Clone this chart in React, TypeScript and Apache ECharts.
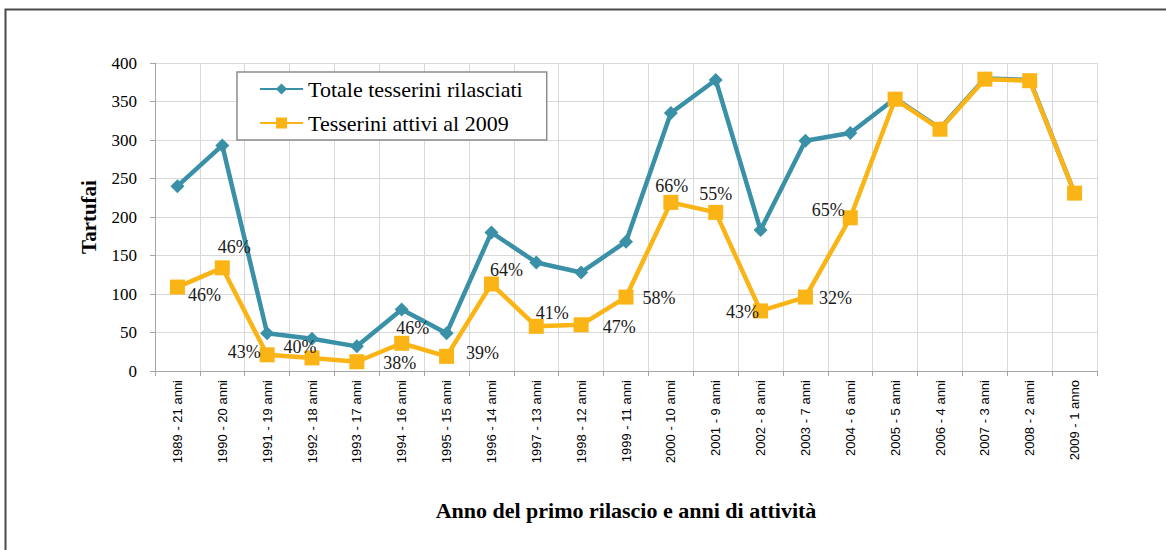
import React, { useEffect, useRef } from "react";
import * as echarts from "echarts";

const categories = [
  "1989 - 21 anni", "1990 - 20 anni", "1991 - 19 anni", "1992 - 18 anni", "1993 - 17 anni",
  "1994 - 16 anni", "1995 - 15 anni", "1996 - 14 anni", "1997 - 13 anni", "1998 - 12 anni",
  "1999 - 11 anni", "2000 - 10 anni", "2001 - 9 anni", "2002 - 8 anni", "2003 - 7 anni",
  "2004 - 6 anni", "2005 - 5 anni", "2006 - 4 anni", "2007 - 3 anni", "2008 - 2 anni", "2009 - 1 anno",
];

const totaleTesserini = [240, 293, 49, 42, 32, 80, 49, 180, 141, 128, 168, 335, 378, 183, 299, 309, 354, 315, 380, 378, 231];
const tesseriniAttivi = [109, 134, 21, 17, 12, 36, 19, 113, 58, 60, 96, 219, 206, 78, 96, 199, 353, 314, 379, 377, 231];
const percentLabels = ["46%", "46%", "43%", "40%", "38%", "46%", "39%", "64%", "41%", "47%", "58%", "66%", "55%", "43%", "32%", "65%", "", "", "", "", ""];
const labelOffsets = [
  [27, 8], [12, -21], [-23, -3], [-12, -11], [43, 1], [11, -15], [36, -3], [15, -14],
  [16, -13], [38, 2], [33, 1], [1, -16], [0, -18], [-18, 1], [30, 1], [-22, -8],
  [0, 0], [0, 0], [0, 0], [0, 0], [0, 0],
];
const yTicks = { min: 0, max: 400, interval: 50 };

const TEAL = "#3A91A7";
const YELLOW = "#FBB416";
const SERIF = "'Liberation Serif', 'Times New Roman', serif";
const SANS = "'Liberation Sans', Arial, sans-serif";

export default function App() {
  const ref = useRef<HTMLDivElement>(null);
  useEffect(() => {
    if (!ref.current) return;
    const chart = echarts.init(ref.current, null, { renderer: "svg" });
    const option = {
      animation: false,
      backgroundColor: "#ffffff",
      graphic: [
        {
          type: "rect",
          shape: { x: 5.5, y: 9.5, width: 1300, height: 700 },
          style: { fill: "none", stroke: "#4a4a4a", lineWidth: 2 },
          silent: true,
        },
      ],
      legend: {
        orient: "vertical",
        left: 237,
        top: 72,
        padding: [6, 24, 6, 22],
        itemGap: 12,
        itemWidth: 43,
        itemHeight: 14,
        borderColor: "#8c8c8c",
        borderWidth: 1.5,
        backgroundColor: "#ffffff",
        textStyle: { fontFamily: SERIF, fontSize: 22, color: "#000" },
        data: ["Totale tesserini rilasciati", "Tesserini attivi al 2009"],
      },
      grid: { left: 155, right: 69, top: 63, bottom: 179, containLabel: false },
      xAxis: {
        type: "category",
        data: categories,
        boundaryGap: true,
        name: "Anno del primo rilascio e anni di attività",
        nameLocation: "middle",
        nameGap: 128,
        nameTextStyle: { fontFamily: SERIF, fontWeight: "bold", fontSize: 22, color: "#000" },
        axisLine: { lineStyle: { color: "#a6a6a6", width: 1 } },
        axisTick: { show: true, alignWithLabel: false, length: 5, lineStyle: { color: "#a6a6a6" } },
        axisLabel: { rotate: 90, interval: 0, fontFamily: SANS, fontSize: 13, color: "#000", margin: 9 },
        splitLine: { show: true, lineStyle: { color: "#d9d9d9", width: 1 } },
      },
      yAxis: {
        type: "value",
        min: yTicks.min,
        max: yTicks.max,
        interval: yTicks.interval,
        name: "Tartufai",
        nameLocation: "middle",
        nameRotate: 90,
        nameGap: 56,
        nameTextStyle: { fontFamily: SERIF, fontWeight: "bold", fontSize: 21, color: "#000" },
        axisLine: { show: true, lineStyle: { color: "#a6a6a6", width: 1 } },
        axisTick: { show: true, length: 5, lineStyle: { color: "#a6a6a6" } },
        axisLabel: { fontFamily: SERIF, fontSize: 17, color: "#000", margin: 18 },
        splitLine: { show: true, lineStyle: { color: "#d9d9d9", width: 1 } },
      },
      series: [
        {
          name: "Totale tesserini rilasciati",
          type: "line",
          data: totaleTesserini,
          symbol: "diamond",
          symbolSize: 14,
          color: TEAL,
          lineStyle: { color: TEAL, width: 4.5 },
          itemStyle: { color: TEAL },
          z: 2,
        },
        {
          name: "Tesserini attivi al 2009",
          type: "line",
          symbol: "rect",
          symbolSize: 15,
          color: YELLOW,
          lineStyle: { color: YELLOW, width: 4.5 },
          itemStyle: { color: YELLOW },
          z: 3,
          data: tesseriniAttivi.map((v, i) => ({
            value: v,
            label: {
              show: percentLabels[i] !== "",
              formatter: percentLabels[i],
              position: "inside",
              offset: labelOffsets[i],
              fontFamily: SERIF,
              fontSize: 18,
              color: "#1a1a1a",
            },
          })),
        },
      ],
    };
    chart.setOption(option);
    return () => chart.dispose();
  }, []);
  return (
    <div
      ref={ref}
      style={{ position: "absolute", left: 0, top: 0, width: 1166, height: 550 }}
    />
  );
}
